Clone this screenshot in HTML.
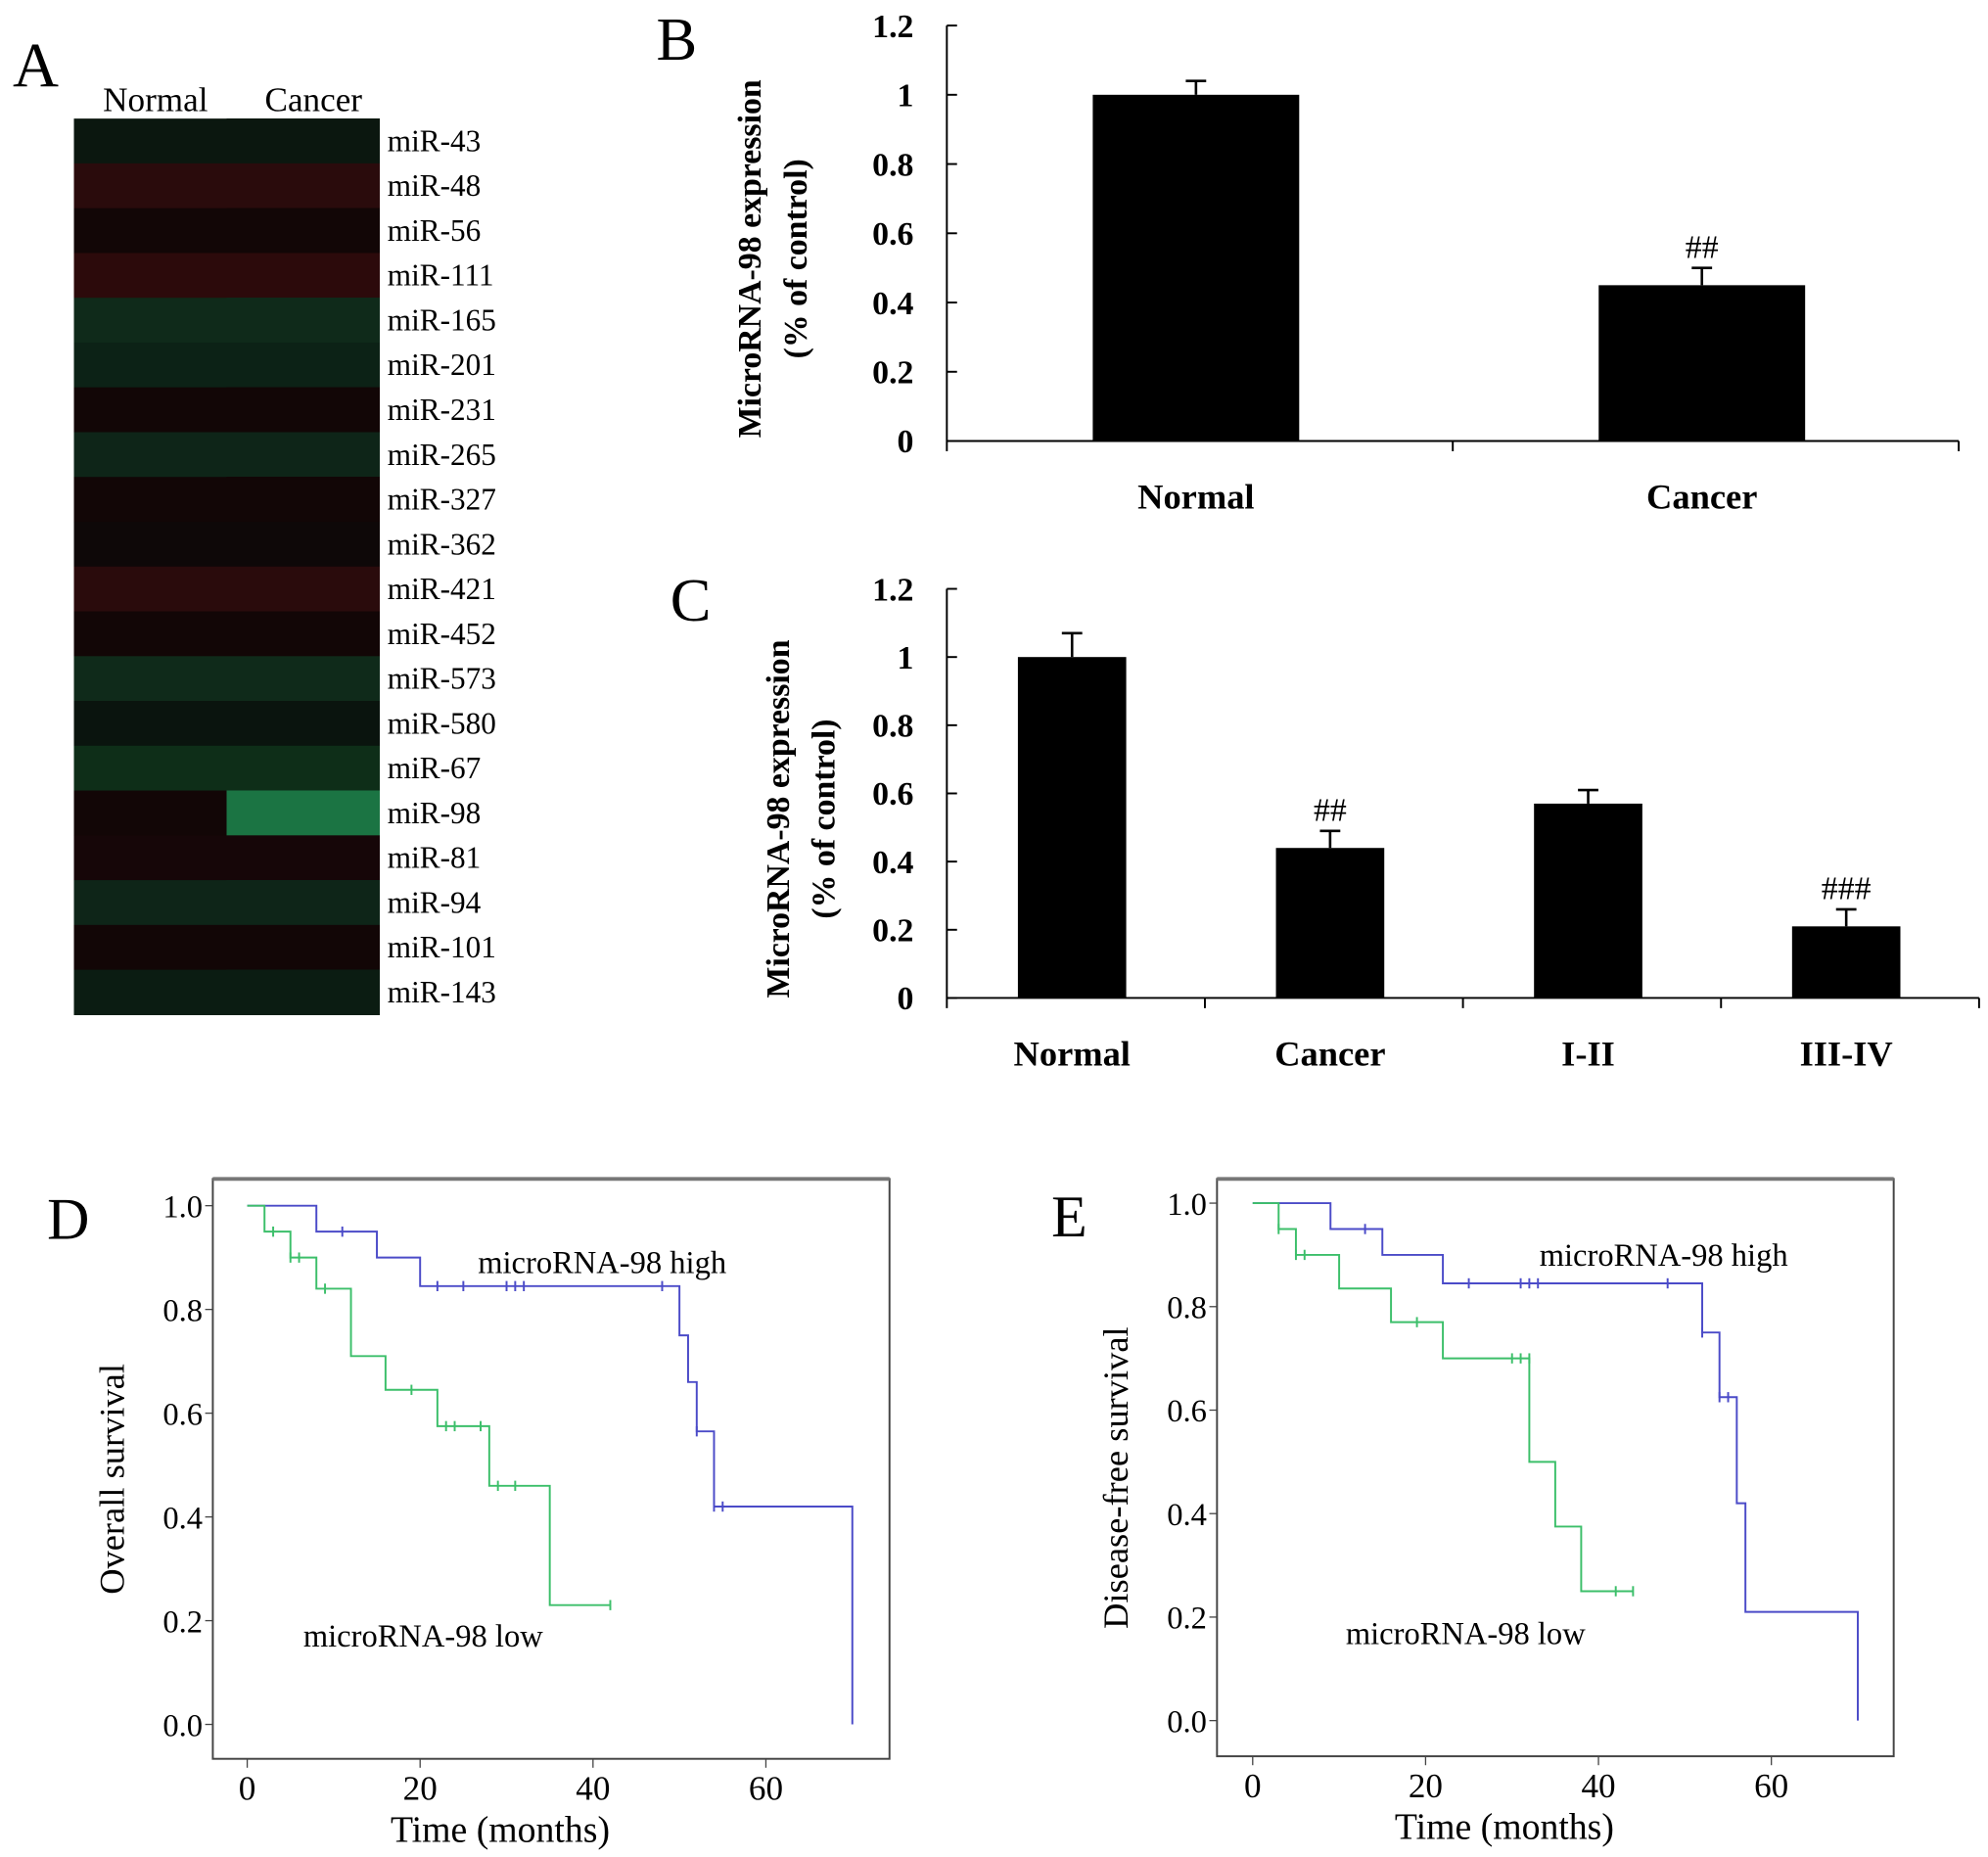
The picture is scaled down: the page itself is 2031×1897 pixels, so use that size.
<!DOCTYPE html>
<html><head><meta charset="utf-8"><style>
html,body{margin:0;padding:0;background:#fff;}
svg{display:block;font-family:"Liberation Serif",serif;}
</style></head><body>
<svg id="fig" width="2031" height="1897" viewBox="0 0 1560 1457" xmlns="http://www.w3.org/2000/svg">
<rect width="1560" height="1457" fill="#fff"/>
<g id="pa"></g>
<g id="pb"></g>
<g id="pc"></g>
<g id="pd"></g>
<g id="pe"></g>
</svg>
<script>
// Panel A data
const heatRows=["miR-43","miR-48","miR-56","miR-111","miR-165","miR-201","miR-231","miR-265","miR-327","miR-362","miR-421","miR-452","miR-573","miR-580","miR-67","miR-98","miR-81","miR-94","miR-101","miR-143"];
const heatNormal=["#0b170f","#2a0b0c","#120606","#2c0a0b","#0f2a1a","#0c2216","#120606","#0e2518","#120606","#0e0808","#2a0b0c","#120606","#0f2a1a","#0a140e","#0e2e18","#120606","#160608","#0e2518","#120606","#0b1c12"];
const heatCancer=["#0b170f","#2a0b0c","#120606","#2c0a0b","#0f2a1a","#0c2216","#120606","#0e2518","#120606","#0e0808","#2a0b0c","#120606","#0f2a1a","#0a140e","#0e2e18","#1b7443","#160608","#0e2518","#120606","#0b1c12"];
// Panel B data
const bCats=["Normal","Cancer"];
const bVals=[1.0,0.45];
const bErr=[0.04,0.05];
const bMarks=["","##"];
// Panel C data
const cCats=["Normal","Cancer","I-II","III-IV"];
const cVals=[1.0,0.44,0.57,0.21];
const cErr=[0.07,0.05,0.04,0.05];
const cMarks=["","##","","###"];
const barTicks=["0","0.2","0.4","0.6","0.8","1","1.2"];
// Panel D data
const dHighT=[0,8,15,20,50,51,52,54,70];
const dHighS=[1.0,0.95,0.90,0.845,0.75,0.66,0.565,0.42,0.42];
const dHighCensT=[11,22,25,30,31,32,48,52,54,55];
const dHighCensS=[0.95,0.845,0.845,0.845,0.845,0.845,0.845,0.565,0.42,0.42];
const dLowT=[0,2,5,8,12,16,22,28,35,42];
const dLowS=[1.0,0.95,0.90,0.84,0.71,0.645,0.575,0.46,0.23,0.23];
const dLowCensT=[3,5,6,9,19,23,24,27,29,31,42];
const dLowCensS=[0.95,0.90,0.90,0.84,0.645,0.575,0.575,0.575,0.46,0.46,0.23];
// Panel E data
const eHighT=[0,9,15,22,52,54,56,57,70];
const eHighS=[1.0,0.95,0.90,0.845,0.75,0.625,0.42,0.21,0.21];
const eHighCensT=[13,25,31,32,33,48,52,54,55];
const eHighCensS=[0.95,0.845,0.845,0.845,0.845,0.845,0.75,0.625,0.625];
const eLowT=[0,3,5,10,16,22,32,35,38,44];
const eLowS=[1.0,0.95,0.90,0.835,0.77,0.70,0.50,0.375,0.25,0.25];
const eLowCensT=[3,5,6,19,30,31,32,42,44];
const eLowCensS=[0.95,0.90,0.90,0.77,0.70,0.70,0.70,0.25,0.25];
const survYTicks=["0.0","0.2","0.4","0.6","0.8","1.0"];
const survXTicks=["0","20","40","60"];

const NS="http://www.w3.org/2000/svg";
function mk(p,tag,at,txt){const e=document.createElementNS(NS,tag);for(const k in at)e.setAttribute(k,at[k]);if(txt!==undefined)e.textContent=txt;p.appendChild(e);return e;}

// Panel A
(function(){
const g=document.getElementById('pa');
let t=mk(g,'text',{x:10,y:68,'font-size':50},'A');


t=mk(g,'text',{x:122,y:87,'font-size':27,'text-anchor':'middle'},'Normal');


t=mk(g,'text',{x:246,y:87,'font-size':27,'text-anchor':'middle'},'Cancer');


const x0=58,x1=178,x2=298,y0=93,y1=796,rh=(y1-y0)/heatRows.length;
heatRows.forEach((r,i)=>{
 const y=y0+i*rh;
 let c=mk(g,'rect',{x:x0,y:y,width:x2-x0,height:rh+0.5,fill:heatNormal[i]});
 
 
 c=mk(g,'rect',{x:x1,y:y,width:x2-x1,height:rh+0.5,fill:heatCancer[i],'shape-rendering':'crispEdges'});
 
 
 const l=mk(g,'text',{x:304,y:y+rh/2+8,'font-size':24},r);
 
 
});
})();

function barChart(gid,letter,lx,ly,ax,top,bot,right,cats,vals,errs,marks,bw,titleX){
 const g=document.getElementById(gid);
 const ys=v=>bot-(v/1.2)*(bot-top);
 let t=mk(g,'text',{x:lx,y:ly,'font-size':48},letter);
 
 
 mk(g,'line',{x1:ax,y1:top,x2:ax,y2:bot,stroke:'#000','stroke-width':1.5});
 mk(g,'line',{x1:ax,y1:bot,x2:right,y2:bot,stroke:'#000','stroke-width':1.5});
 barTicks.forEach(tk=>{
  const y=ys(parseFloat(tk));
  mk(g,'line',{x1:ax,y1:y,x2:ax+8,y2:y,stroke:'#000','stroke-width':1.5});
  const e=mk(g,'text',{x:ax-26,y:y+9,'font-size':26,'font-weight':'bold','text-anchor':'end'},tk);
  
  
 });
 const slot=(right-ax)/cats.length;
 for(let i=0;i<=cats.length;i++){const x=ax+i*slot;mk(g,'line',{x1:x,y1:bot,x2:x,y2:bot+8,stroke:'#000','stroke-width':1.5});}
 cats.forEach((c,i)=>{
  const cx=ax+slot*(i+0.5)-3;
  const b=mk(g,'rect',{x:cx-bw/2,y:ys(vals[i]),width:bw,height:bot-ys(vals[i]),fill:'#000'});
  
  
  const ye=ys(vals[i]+errs[i]);
  mk(g,'line',{x1:cx,y1:ye,x2:cx,y2:ys(vals[i]),stroke:'#000','stroke-width':2});
  mk(g,'line',{x1:cx-8,y1:ye,x2:cx+8,y2:ye,stroke:'#000','stroke-width':2});
  if(marks[i]){const m=mk(g,'text',{x:cx,y:ye-8,'font-size':26,'text-anchor':'middle'},marks[i]);
   
   }
  const l=mk(g,'text',{x:cx,y:bot+53,'font-size':28,'font-weight':'bold','text-anchor':'middle'},c);
  
  
 });
 const cy=(top+bot)/2+20;
 const yt=mk(g,'text',{transform:`translate(${titleX},${cy}) rotate(-90)`,'font-size':26,'font-weight':'bold','text-anchor':'middle'});
 
 
 mk(yt,'tspan',{x:0,y:0},'MicroRNA-98 expression');
 mk(yt,'tspan',{x:0,y:36},'(% of control)');
}
barChart('pb','B',515,47,743,20,346,1537,bCats,bVals,bErr,bMarks,162,597);
barChart('pc','C',526,487,743,462,783,1553,cCats,cVals,cErr,cMarks,85,619);

function surv(gid,letter,bx0,bx1,by0,by1,x0px,x60px,y1px,y0px,title,series,labels){
 const g=document.getElementById(gid);
 const xs=t=>x0px+t*(x60px-x0px)/60;
 const ys=s=>y0px-s*(y0px-y1px);
 let t=mk(g,'text',{x:bx0-130,y:y1px+26,'font-size':46},letter);
 
 
 mk(g,'rect',{x:bx0,y:by0,width:bx1-bx0,height:by1-by0,fill:'none',stroke:'#444','stroke-width':1.5});
 mk(g,'line',{x1:bx0,y1:by0,x2:bx1,y2:by0,stroke:'#777','stroke-width':3});
 survYTicks.forEach(tk=>{const y=ys(parseFloat(tk));
  mk(g,'line',{x1:bx0-6,y1:y,x2:bx0,y2:y,stroke:'#444'});
  const e=mk(g,'text',{x:bx0-8,y:y+9,'font-size':25,'text-anchor':'end'},tk);
  
  });
 survXTicks.forEach(tk=>{const x=xs(parseFloat(tk));
  mk(g,'line',{x1:x,y1:by1,x2:x,y2:by1+7,stroke:'#444'});
  const e=mk(g,'text',{x:x,y:by1+32,'font-size':27,'text-anchor':'middle'},tk);
  
  });
 const xt=mk(g,'text',{x:(bx0+bx1)/2-40,y:by1+65,'font-size':29,'text-anchor':'middle'},'Time (months)');
 
 
 const yt=mk(g,'text',{transform:`translate(${bx0-70},${(by0+by1)/2+8}) rotate(-90)`,'font-size':28,'text-anchor':'middle'},title);
 
 
 series.forEach(s=>{
  let d=`M${xs(s.T[0])},${ys(s.S[0])}`;
  for(let i=1;i<s.T.length;i++){d+=` H${xs(s.T[i])} V${ys(s.S[i])}`;}
  if(s.drop)d+=` V${ys(0)}`;
  const p=mk(g,'path',{d:d,fill:'none',stroke:s.c,'stroke-width':1.5});
  
  
  s.CT.forEach((ct,i)=>{const x=xs(ct),y=ys(s.CS[i]);
   const m=mk(g,'line',{x1:x,y1:y-4,x2:x,y2:y+4,stroke:s.c,'stroke-width':1.5});
   
   });
 });
 labels.forEach(l=>{const e=mk(g,'text',{x:l.x,y:l.y,'font-size':25},l.t);
  
  });
}
surv('pd','D',167,698,925,1380,194,601,946,1353,'Overall survival',[
 {T:dHighT,S:dHighS,CT:dHighCensT,CS:dHighCensS,c:'#4b4bc8',drop:true,name:'high-curve'},
 {T:dLowT,S:dLowS,CT:dLowCensT,CS:dLowCensS,c:'#3cbf6a',drop:false,name:'low-curve'}],
 [{x:375,y:999,t:'microRNA-98 high',n:'high-label'},{x:238,y:1292,t:'microRNA-98 low',n:'low-label'}]);
surv('pe','E',955,1486,925,1378,983,1390,944,1350,'Disease-free survival',[
 {T:eHighT,S:eHighS,CT:eHighCensT,CS:eHighCensS,c:'#4b4bc8',drop:true,name:'high-curve'},
 {T:eLowT,S:eLowS,CT:eLowCensT,CS:eLowCensS,c:'#3cbf6a',drop:false,name:'low-curve'}],
 [{x:1208,y:993,t:'microRNA-98 high',n:'high-label'},{x:1056,y:1290,t:'microRNA-98 low',n:'low-label'}]);
</script>
</body></html>
